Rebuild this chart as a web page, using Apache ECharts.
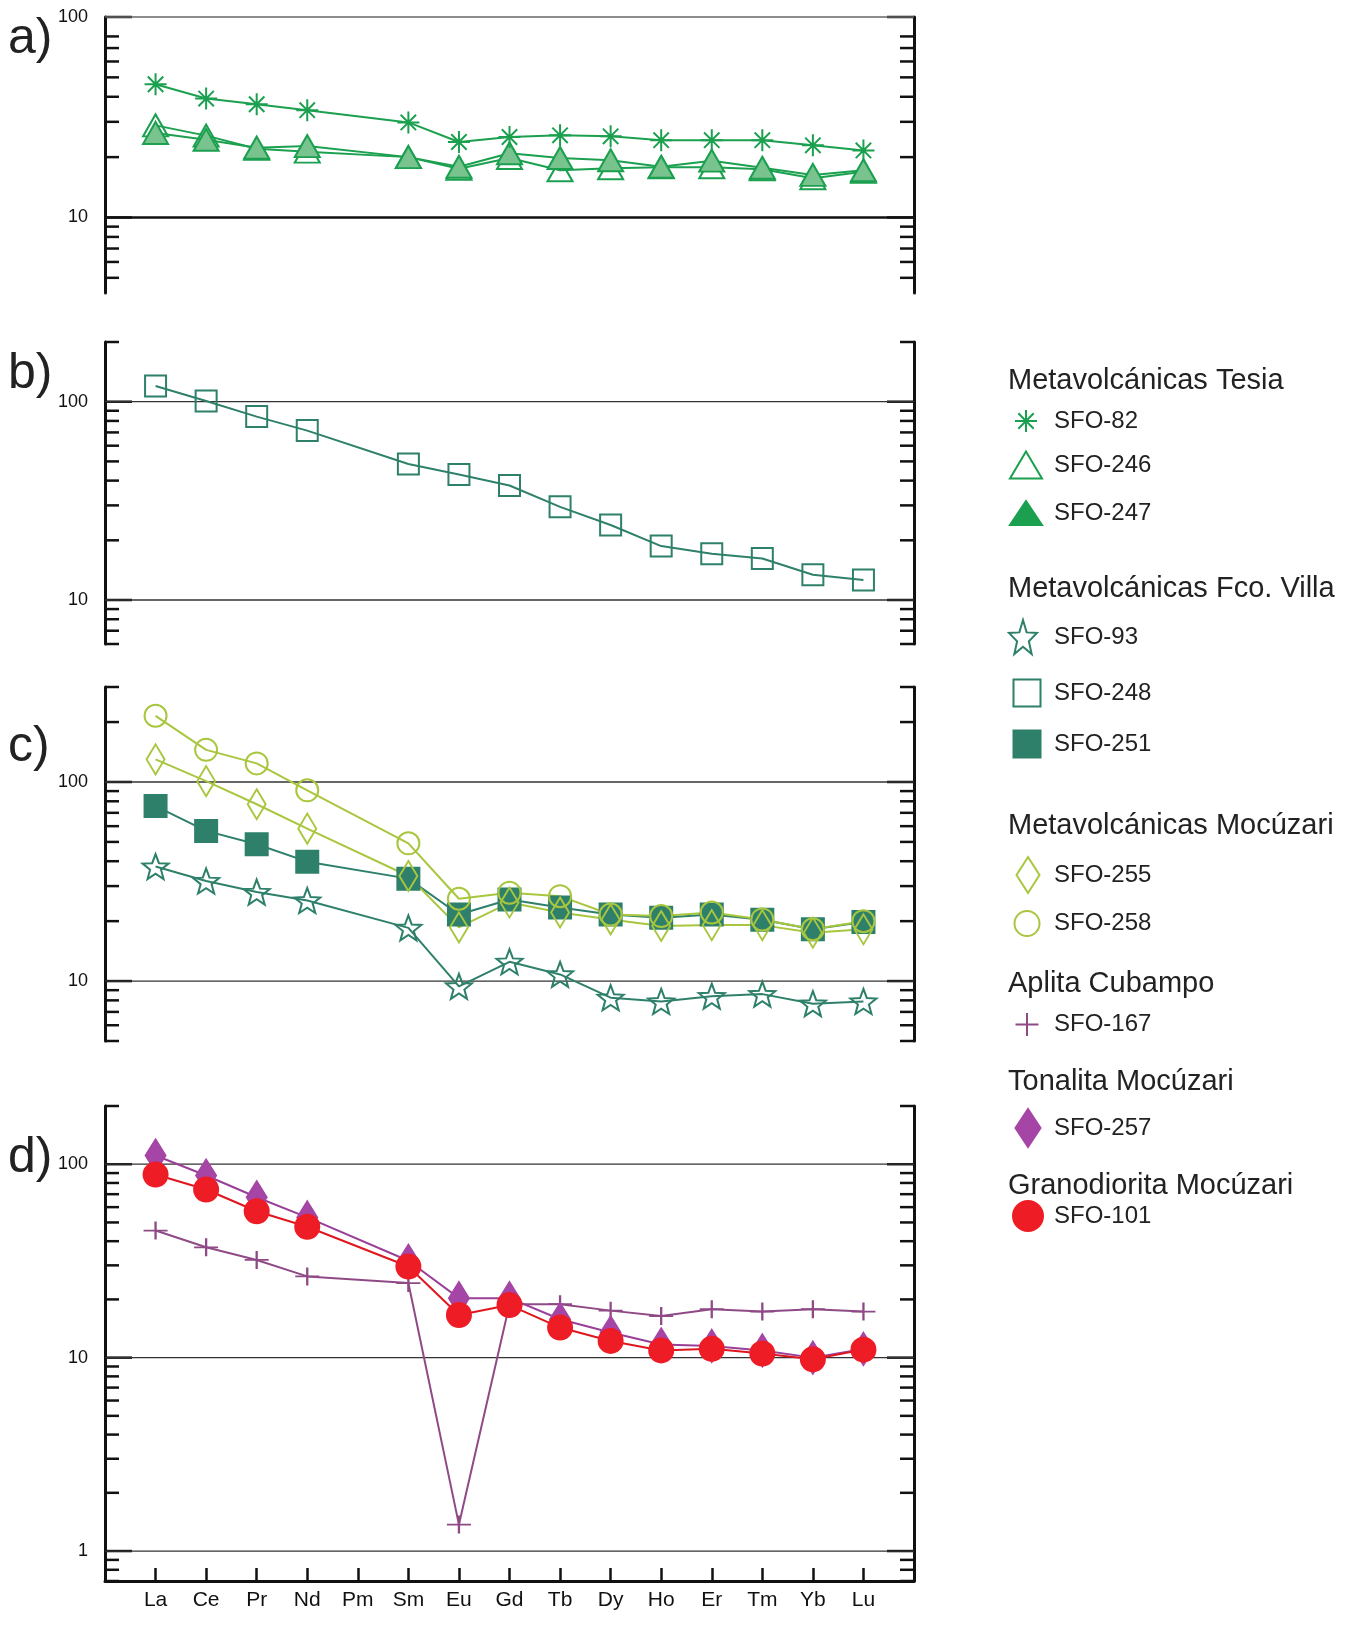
<!DOCTYPE html>
<html>
<head>
<meta charset="utf-8">
<title>REE patterns</title>
<script src="https://cdn.jsdelivr.net/npm/echarts@6/dist/echarts.min.js"></script>
<style>
  html, body { margin: 0; padding: 0; background: #fff; }
  #chart { width: 1363px; height: 1627px; }
</style>
</head>
<body>
<div id="chart"></div>
<script>
// rare earth elements on the x axis (Pm has no data)
const ree = ["La", "Ce", "Pr", "Nd", "Pm", "Sm", "Eu", "Gd", "Tb", "Dy", "Ho", "Er", "Tm", "Yb", "Lu"];

// a) Metavolcánicas Tesia
const sfo82 = [46.2, 39.2, 36.7, 34.3, null, 29.8, 23.8, 25.2, 25.7, 25.4, 24.3, 24.3, 24.3, 22.9, 21.6];
const sfo246 = [28.8, 25.6, 22.0, 21.3, null, 20.0, 17.5, 19.8, 17.2, 17.6, 17.8, 17.8, 17.4, 15.7, 16.9];
const sfo247 = [26.4, 24.4, 22.3, 22.7, null, 20.0, 17.9, 20.9, 19.8, 19.3, 17.9, 19.2, 17.7, 16.3, 17.2];

// b) Metavolcánicas Fco. Villa
const sfo248 = [120, 100.8, 84.1, 71.5, null, 48.5, 42.9, 37.8, 29.5, 23.9, 18.7, 17.1, 16.2, 13.4, 12.6];

// c) Fco. Villa + Mocúzari
const sfo93 = [37.6, 31.8, 28.0, 25.4, null, 18.5, 9.4, 12.5, 10.8, 8.25, 7.9, 8.4, 8.6, 7.7, 7.9];
const sfo251 = [75.7, 56.8, 48.7, 39.8, null, 32.7, 21.6, 25.7, 23.4, 21.6, 20.8, 21.6, 20.3, 18.2, 19.8];
const sfo255 = [130, 101, 77.3, 58.3, null, 33.7, 18.6, 24.8, 22.1, 20.4, 18.9, 19.1, 19.1, 17.5, 18.2];
const sfo258 = [215, 145, 124, 90.8, null, 49.2, 25.9, 27.8, 26.7, 21.6, 21.2, 22.1, 20.4, 18.2, 20.0];

// d) Aplita Cubampo, Tonalita and Granodiorita Mocúzari
const sfo167 = [45.4, 37.2, 32.0, 26.3, null, 24.3, 1.37, 18.9, 18.9, 17.5, 16.4, 17.8, 17.3, 17.8, 17.3];
const sfo257 = [111, 87.4, 67.5, 53.1, null, 31.7, 20.3, 20.3, 15.8, 13.5, 11.7, 11.5, 10.9, 10.0, 11.1];
const sfo101 = [88.4, 74.0, 57.1, 47.5, null, 29.6, 16.6, 18.7, 14.3, 12.2, 10.9, 11.1, 10.5, 9.8, 11.0];

// log axis ticks: labelled decades and unlabelled minor ticks
const decadesA = [10, 100];
const minorA = [5, 6, 7, 8, 9, 20, 30, 40, 50, 60, 70, 80];
const decadesB = [10, 100];
const minorB = [6, 7, 8, 9, 20, 30, 40, 50, 60, 70, 80, 90, 200];
const decadesC = [10, 100];
const minorC = [5, 6, 7, 8, 9, 20, 30, 40, 50, 60, 70, 80, 90, 200, 300];
const decadesD = [1, 10, 100];
const minorD = [0.7, 0.8, 0.9, 2, 3, 4, 5, 6, 7, 8, 9, 20, 30, 40, 50, 60, 70, 80, 90, 200];

// legend headings
const groupNames = ["Metavolcánicas Tesia", "Metavolcánicas Fco. Villa", "Metavolcánicas Mocúzari",
  "Aplita Cubampo", "Tonalita Mocúzari", "Granodiorita Mocúzari"];

const font = "Liberation Sans, Arial, sans-serif";

const ASTERISK = "path://M10 0L10 20M0 10L20 10M3 3L17 17M17 3L3 17";
const PLUS = "path://M0 10L24 10M12 0L12 20";
const STAR = "path://M10 0L12.47 6.6L19.51 6.91L13.99 11.3L15.88 18.09L10 14.2L4.12 18.09L6.01 11.3L0.49 6.91L7.53 6.6Z";

const green = "#1ba04f";
const teal = "#2e806b";
const lime = "#a8c63e";

const styles = {
  "SFO-82": { symbol: ASTERISK, size: [22, 22], fill: green, stroke: green, line: green },
  "SFO-246": { symbol: "triangle", size: [25, 22], fill: "transparent", stroke: green, line: green },
  "SFO-247": { symbol: "triangle", size: [25, 22], fill: "#78c38e", stroke: green, line: green, legendFill: green },
  "SFO-248": { symbol: "rect", size: [21, 21], fill: "transparent", stroke: teal, line: teal },
  "SFO-93": { symbol: STAR, size: [26, 25], fill: "transparent", stroke: teal, line: teal },
  "SFO-251": { symbol: "rect", size: [22, 22], fill: teal, stroke: teal, line: teal },
  "SFO-255": { symbol: "diamond", size: [18, 30], fill: "transparent", stroke: lime, line: lime },
  "SFO-258": { symbol: "circle", size: [22, 22], fill: "transparent", stroke: lime, line: lime },
  "SFO-167": { symbol: PLUS, size: [24, 18], fill: "#8f4a86", stroke: "#8f4a86", line: "#8f4a86" },
  "SFO-257": { symbol: "diamond", size: [20, 32], fill: "#a545a5", stroke: "#a545a5", line: "#9a3f98" },
  "SFO-101": { symbol: "circle", size: [24, 24], fill: "#ee1c25", stroke: "#ee1c25", line: "#e0161e" },
};

const panels = [
  { top: 17, height: 276, min: 4.2, max: 100, decades: decadesA, minor: minorA,
    series: [["SFO-246", sfo246], ["SFO-247", sfo247], ["SFO-82", sfo82]] },
  { top: 342, height: 302, min: 6, max: 200, decades: decadesB, minor: minorB,
    series: [["SFO-248", sfo248]] },
  { top: 687, height: 354, min: 5, max: 300, decades: decadesC, minor: minorC,
    series: [["SFO-93", sfo93], ["SFO-251", sfo251], ["SFO-255", sfo255], ["SFO-258", sfo258]] },
  { top: 1106, height: 475, min: 0.7, max: 200, decades: decadesD, minor: minorD,
    series: [["SFO-167", sfo167], ["SFO-257", sfo257], ["SFO-101", sfo101]] },
];

const panelLetters = ["a)", "b)", "c)", "d)"];
const letterY = [39, 374, 747, 1158];

// legend layout: sample, icon centre x, icon centre y, icon width, icon height
const legendLayout = [
  ["SFO-82", 1025, 422, 22, 22],
  ["SFO-246", 1025, 464, 32, 27],
  ["SFO-247", 1025, 513, 32, 24],
  ["SFO-93", 1022, 636, 28, 34],
  ["SFO-248", 1026, 692, 27, 27],
  ["SFO-251", 1026, 743, 27, 27],
  ["SFO-255", 1027, 874, 23, 36],
  ["SFO-258", 1026, 923, 25, 25],
  ["SFO-167", 1026, 1025, 23, 23],
  ["SFO-257", 1027, 1127, 25, 38],
  ["SFO-101", 1027, 1215, 30, 30],
];
const headingY = [381, 589, 826, 984, 1082, 1186];

const chart = echarts.init(document.getElementById("chart"));

const grid = [];
const xAxis = [];
const yAxis = [];
const series = [];

function isDecade(v, list) {
  return list.find((d) => Math.abs(v / d - 1) < 1e-6);
}

// draws the inward ticks on both y axes and the decade lines
function tickRenderer(panelIndex) {
  return function (params, api) {
    const v = api.value(1);
    const major = api.value(2) === 1;
    const l = api.coord([-1, v]);
    const r = api.coord([15, v]);
    const len = major ? 27 : 14;
    const tickStyle = { stroke: "#111", lineWidth: 2.5 };
    const children = [
      { type: "line", shape: { x1: l[0], y1: l[1], x2: l[0] + len, y2: l[1] }, style: tickStyle },
      { type: "line", shape: { x1: r[0] - len, y1: r[1], x2: r[0], y2: r[1] }, style: tickStyle },
    ];
    if (major) {
      let lw = 1.3;
      let col = "#333";
      if (panelIndex === 0 && v < 50) { lw = 2.5; col = "#111"; }
      if (panelIndex === 0 && v > 50) { col = "#666"; }
      children.push({ type: "line", shape: { x1: l[0], y1: l[1], x2: r[0], y2: r[1] }, style: { stroke: col, lineWidth: lw } });
    }
    return { type: "group", children: children };
  };
}

panels.forEach((p, i) => {
  const last = i === panels.length - 1;
  grid.push({ left: 105, right: 449, top: p.top, height: p.height, outerBoundsMode: "none" });
  xAxis.push({
    type: "value", gridIndex: i, min: -1, max: 15, interval: 1, show: last, position: "bottom",
    axisLine: { onZero: false, lineStyle: { color: "#111", width: 3 } },
    axisTick: { inside: true, length: 13, lineStyle: { color: "#111", width: 2.5 } },
    splitLine: { show: false },
    axisLabel: {
      margin: 9, fontSize: 21, fontFamily: font, color: "#111",
      formatter: (v) => ree[Math.round(v)] || "",
    },
  });
  yAxis.push({
    type: "log", logBase: 10, gridIndex: i, min: p.min, max: p.max, position: "left",
    axisLine: { show: true, onZero: false, lineStyle: { color: "#111", width: 3 } },
    axisTick: { show: false },
    splitLine: { show: false },
    axisLabel: {
      margin: 17, fontSize: 18, fontFamily: font, color: "#111",
      showMaxLabel: true, showMinLabel: true,
      formatter: (v) => { const d = isDecade(v, p.decades); return d ? String(d) : ""; },
    },
  });
  yAxis.push({
    type: "log", logBase: 10, gridIndex: i, min: p.min, max: p.max, position: "right",
    axisLine: { show: true, onZero: false, lineStyle: { color: "#111", width: 3 } },
    axisTick: { show: false },
    splitLine: { show: false },
    axisLabel: { show: false },
  });

  series.push({
    type: "custom", xAxisIndex: i, yAxisIndex: 2 * i, z: 1, silent: true,
    data: p.decades.map((v) => [-1, v, 1]).concat(p.minor.map((v) => [-1, v, 0])),
    renderItem: tickRenderer(i),
  });

  p.series.forEach(([name, values]) => {
    const s = styles[name];
    series.push({
      name: name, type: "line", xAxisIndex: i, yAxisIndex: 2 * i, z: 3,
      data: ree.map((_, k) => [k, values[k]]).filter((d) => d[1] != null),
      symbol: s.symbol, symbolSize: s.size,
      itemStyle: { color: s.fill, borderColor: s.stroke, borderWidth: 2 },
      lineStyle: { color: s.line, width: 2 },
      emphasis: { disabled: true },
    });
  });
});

const legend = legendLayout.map(([name, cx, cy, w, h]) => {
  const s = styles[name];
  return {
    left: cx - w / 2, top: cy - Math.max(h, 26) / 2, padding: 0,
    itemWidth: w, itemHeight: h, symbolKeepAspect: false, selectedMode: false,
    textStyle: { fontSize: 24, fontFamily: font, color: "#222", padding: [0, 0, 0, 1053 - (cx + w / 2 + 5)] },
    data: [{
      name: name, icon: s.symbol,
      itemStyle: { color: s.legendFill || s.fill, borderColor: s.stroke, borderWidth: 2 },
    }],
  };
});

const graphic = [];
groupNames.forEach((t, k) => {
  graphic.push({
    type: "text", x: 1008, y: headingY[k],
    style: { text: t, fontSize: 29, fontFamily: font, fill: "#222", verticalAlign: "middle" },
  });
});
panelLetters.forEach((t, k) => {
  graphic.push({
    type: "text", x: 8, y: letterY[k],
    style: { text: t, fontSize: 50, fontFamily: font, fill: "#222", verticalAlign: "middle" },
  });
});

chart.setOption({
  animation: false,
  backgroundColor: "#fff",
  grid: grid,
  xAxis: xAxis,
  yAxis: yAxis,
  legend: legend,
  graphic: graphic,
  series: series,
});
</script>
</body>
</html>
